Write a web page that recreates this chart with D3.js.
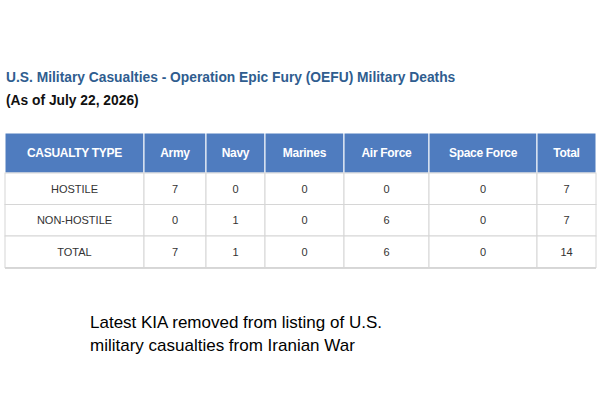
<!DOCTYPE html>
<html><head><meta charset="utf-8">
<script src="https://cdn.jsdelivr.net/npm/d3@7"></script>
<style>body{margin:0;background:#fff}</style>
</head><body><div id="chart"></div>
<script>
const columns = ["CASUALTY TYPE", "Army", "Navy", "Marines", "Air Force", "Space Force", "Total"];
const rowLabels = ["HOSTILE", "NON-HOSTILE", "TOTAL"];
const army = [7, 0, 7];
const navy = [0, 1, 1];
const marines = [0, 0, 0];
const airForce = [0, 6, 6];
const spaceForce = [0, 0, 0];
const total = [7, 7, 14];

const colEdges = [5, 144, 206, 265, 344, 429, 537, 596];
const rowTop = [133, 173, 204.5, 236, 267.5];
const rows = rowLabels.map((r, i) => [r, army[i], navy[i], marines[i], airForce[i], spaceForce[i], total[i]]);

const svg = d3.select("#chart").append("svg").attr("width", 600).attr("height", 400)
  .style("font-family", "Arial, 'Liberation Sans', sans-serif");

svg.append("text").attr("x", 6).attr("y", 82).attr("font-size", 13.8).attr("font-weight", "bold")
  .attr("fill", "#2f5d8f").text("U.S. Military Casualties - Operation Epic Fury (OEFU) Military Deaths");
svg.append("text").attr("x", 6).attr("y", 105).attr("font-size", 13.8).attr("font-weight", "bold")
  .attr("fill", "#111").text("(As of July 22, 2026)");

const g = svg.append("g");
g.append("rect").attr("x", 5).attr("y", 266).attr("width", 591).attr("height", 3).attr("fill", "#d8d8d8");
columns.forEach((c, j) => {
  g.append("rect").attr("x", colEdges[j]).attr("y", rowTop[0]).attr("width", colEdges[j + 1] - colEdges[j])
    .attr("height", rowTop[1] - rowTop[0]).attr("fill", "#4f7cbf").attr("stroke", "#fff").attr("stroke-width", 1);
  g.append("text").attr("x", (colEdges[j] + colEdges[j + 1]) / 2).attr("y", (rowTop[0] + rowTop[1]) / 2 + 4)
    .attr("text-anchor", "middle").attr("font-size", 12).attr("font-weight", "bold").attr("fill", "#fff")
    .attr("letter-spacing", -0.3).text(c);
});
rows.forEach((r, i) => {
  r.forEach((v, j) => {
    g.append("rect").attr("x", colEdges[j]).attr("y", rowTop[i + 1]).attr("width", colEdges[j + 1] - colEdges[j])
      .attr("height", rowTop[i + 2] - rowTop[i + 1]).attr("fill", "#fff").attr("stroke", "#d6d6d6");
    g.append("text").attr("x", (colEdges[j] + colEdges[j + 1]) / 2).attr("y", (rowTop[i + 1] + rowTop[i + 2]) / 2 + 4)
      .attr("text-anchor", "middle").attr("font-size", 11).attr("fill", "#333").text(v);
  });
});

svg.append("text").attr("x", 90).attr("y", 328).attr("font-size", 17).attr("fill", "#000")
  .text("Latest KIA removed from listing of U.S.");
svg.append("text").attr("x", 90).attr("y", 351).attr("font-size", 17).attr("fill", "#000")
  .text("military casualties from Iranian War");
</script></body></html>
